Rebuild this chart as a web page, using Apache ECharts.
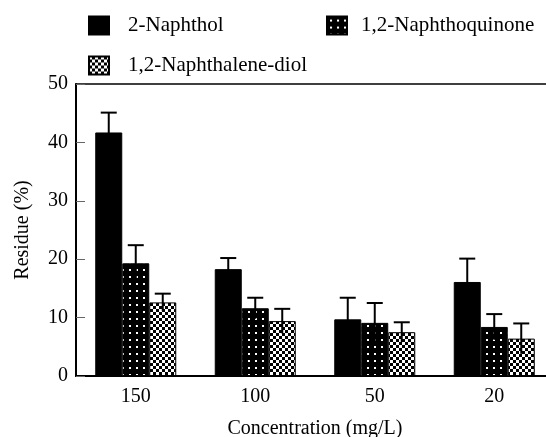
<!DOCTYPE html>
<html>
<head>
<meta charset="utf-8">
<script src="https://cdn.jsdelivr.net/npm/echarts@6/dist/echarts.min.js"></script>
<style>
html,body{margin:0;padding:0;background:#fff;}
#main{width:546px;height:437px;}
</style>
</head>
<body>
<div id="main"></div>
<script>
// ---- data ----
var categories = ['150', '100', '50', '20'];
var seriesNames = ['2-Naphthol', '1,2-Naphthoquinone', '1,2-Naphthalene-diol'];
var naphthol = [41.7, 18.3, 9.7, 16.1];
var naphthol_err = [3.4, 1.9, 3.7, 4.0];
var quinone = [19.3, 11.6, 9.1, 8.4];
var quinone_err = [3.1, 1.8, 3.4, 2.2];
var diol = [12.6, 9.4, 7.5, 6.4];
var diol_err = [1.5, 2.1, 1.7, 2.6];
var yTicks = [0, 10, 20, 30, 40, 50];

// ---- patterns ----
function dotPattern() {
  var c = document.createElement('canvas');
  c.width = 7; c.height = 7;
  var g = c.getContext('2d');
  g.fillStyle = '#000'; g.fillRect(0, 0, 7, 7);
  g.fillStyle = '#fff'; g.fillRect(3, 3, 2, 2);
  return c;
}
function checkPattern() {
  var c = document.createElement('canvas');
  c.width = 6; c.height = 6;
  var g = c.getContext('2d');
  g.fillStyle = '#000'; g.fillRect(0, 0, 6, 6);
  g.fillStyle = '#fff'; g.fillRect(0, 0, 3, 3); g.fillRect(3, 3, 3, 3);
  return c;
}
var fills = ['#000', {image: dotPattern(), repeat: 'repeat'}, {image: checkPattern(), repeat: 'repeat'}];
var values = [naphthol, quinone, diol];
var errors = [naphthol_err, quinone_err, diol_err];

var FONT = "'Liberation Serif', 'Times New Roman', serif";
var BAR_W = 27;

var chart = echarts.init(document.getElementById('main'), null, {renderer: 'canvas'});

var series = [];
values.forEach(function (v, i) {
  series.push({
    name: seriesNames[i],
    type: 'bar',
    data: v,
    barWidth: BAR_W,
    barGap: '0%',
    itemStyle: {color: fills[i], borderColor: '#000', borderWidth: 1},
    z: 2
  });
});
values.forEach(function (v, i) {
  var data = v.map(function (val, k) { return [k, val, errors[i][k]]; });
  series.push({
    type: 'custom',
    data: data,
    z: 5,
    silent: true,
    renderItem: function (params, api) {
      var k = api.value(0), val = api.value(1), e = api.value(2);
      var top = api.coord([k, val + e]);
      var bot = api.coord([k, val - e]);
      var x = top[0] + (i - 1) * BAR_W;
      var capHalf = 8;
      return {
        type: 'group',
        children: [
          {type: 'line', shape: {x1: x, y1: top[1], x2: x, y2: bot[1]}, style: {stroke: '#000', lineWidth: 2}},
          {type: 'line', shape: {x1: x - capHalf, y1: top[1], x2: x + capHalf, y2: top[1]}, style: {stroke: '#000', lineWidth: 2}}
        ]
      };
    }
  });
});

function legendItem(name, left, top, gap) {
  return {
    data: [{name: name, icon: 'rect'}],
    left: left, top: top,
    padding: 0,
    itemWidth: 20, itemHeight: 18,
    itemGap: 0,
    selectedMode: false,
    textStyle: {fontFamily: FONT, fontSize: 21, color: '#000', padding: [0, 0, 0, gap]}
  };
}

var option = {
  backgroundColor: '#fff',
  animation: false,
  legend: [
    legendItem(seriesNames[0], 88, 15, 14),
    legendItem(seriesNames[1], 326, 15, 9),
    legendItem(seriesNames[2], 88, 55, 14)
  ],
  grid: {left: 76, width: 478, top: 84, height: 292, outerBoundsMode: 'none', containLabel: false,
         show: true, borderColor: '#000', borderWidth: 1.5, backgroundColor: 'transparent'},
  xAxis: {
    type: 'category',
    data: categories,
    name: 'Concentration (mg/L)',
    nameLocation: 'middle',
    nameGap: 43,
    nameTextStyle: {fontFamily: FONT, fontSize: 20, color: '#000'},
    axisLine: {lineStyle: {color: '#000', width: 2}},
    axisTick: {inside: true, length: 10, lineStyle: {color: '#666', width: 1}},
    axisLabel: {fontFamily: FONT, fontSize: 20, color: '#000', margin: 11}
  },
  yAxis: {
    type: 'value',
    min: yTicks[0], max: yTicks[yTicks.length - 1], interval: 10,
    name: 'Residue (%)',
    nameLocation: 'middle',
    nameGap: 43,
    nameTextStyle: {fontFamily: FONT, fontSize: 20, color: '#000'},
    splitLine: {show: false},
    axisLine: {show: true, lineStyle: {color: '#000', width: 2}},
    axisTick: {show: true, inside: true, length: 9, lineStyle: {color: '#666', width: 1}},
    axisLabel: {fontFamily: FONT, fontSize: 20, color: '#000', margin: 8}
  },
  series: series
};
chart.setOption(option);
</script>
</body>
</html>
